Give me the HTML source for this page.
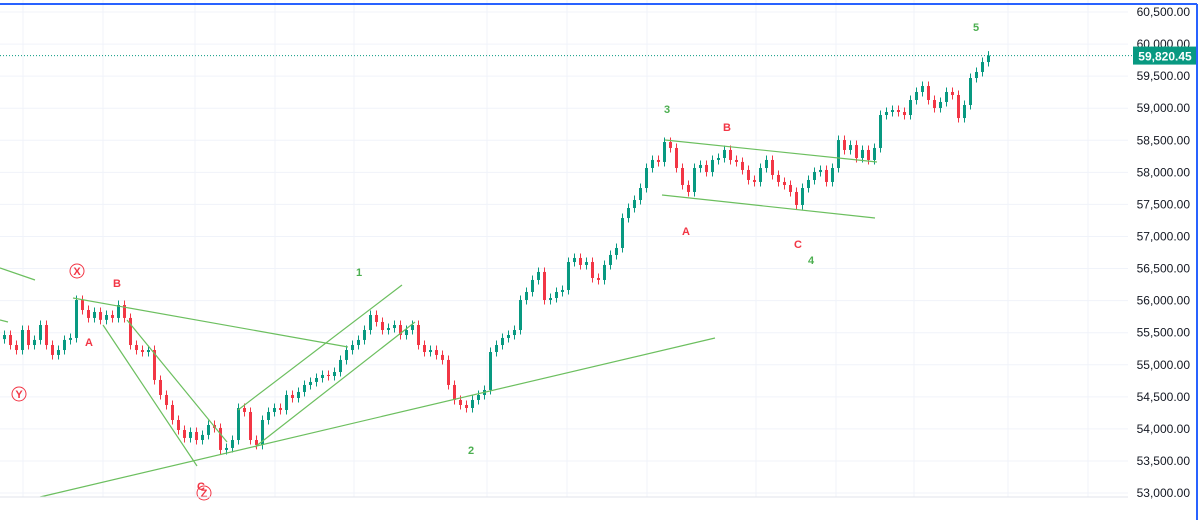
<!DOCTYPE html>
<html><head><meta charset="utf-8"><style>
html,body{margin:0;padding:0;background:#fff;}
svg{display:block;font-family:"Liberation Sans",sans-serif;}
</style></head><body>
<svg id="chart" width="1200" height="520" viewBox="0 0 1200 520">
<rect x="0" y="0" width="1200" height="520" fill="#fff"/>
<g id="grid"></g>
<g id="axis"></g>
<g id="candles"></g>
<g id="draw"></g>
<line x1="0" y1="497" x2="1128" y2="497" stroke="#e0e3eb"/>
<line x1="0" y1="4" x2="1197" y2="4" stroke="#2962ff" stroke-width="2"/>
<line x1="1197" y1="4" x2="1197" y2="520" stroke="#2962ff" stroke-width="2"/>
</svg>
<script>
const yTicks=[53000,53500,54000,54500,55000,55500,56000,56500,57000,57500,58000,58500,59000,59500,60000,60500];
const closes=[55464,55308,55230,55542,55308,55387,55620,55308,55153,55230,55387,55418,56010,55854,55730,55823,55700,55776,55730,55932,55730,55308,55230,55199,55230,54763,54529,54373,54139,53983,53859,53952,53827,53906,54061,54015,53672,53703,53827,54326,54264,53827,53750,54139,54264,54326,54295,54529,54482,54576,54685,54732,54794,54841,54825,54887,55075,55230,55308,55387,55542,55776,55667,55542,55573,55620,55464,55542,55620,55308,55199,55230,55153,55075,54685,54451,54373,54326,54451,54529,54607,55199,55308,55418,55464,55542,56010,56135,56322,56447,56010,56041,56135,56166,56602,56665,56556,56602,56353,56322,56556,56712,56821,57288,57444,57569,57756,58068,58193,58162,58473,58380,58068,57803,57694,58068,58115,58006,58193,58224,58349,58193,58162,58037,57881,57850,58068,58193,57959,57850,57803,57694,57491,57756,57881,58006,58037,57850,58068,58504,58349,58426,58224,58349,58193,58380,58894,58941,58972,58941,58894,59128,59253,59346,59128,59003,59097,59253,59206,58847,59050,59471,59565,59720,59820.45];
const firstOpen=55400;
const lastPrice=59820.45;
const NS="http://www.w3.org/2000/svg";
function yS(p){return 12+(60500-p)/500*32.07;}
function xS(i){return 3+i*6;}
function mk(tag,attrs,parent){const e=document.createElementNS(NS,tag);for(const k in attrs)e.setAttribute(k,attrs[k]);parent.appendChild(e);return e;}
const grid=document.getElementById('grid'),axis=document.getElementById('axis'),cg=document.getElementById('candles'),dg=document.getElementById('draw');
[23,103,195,275,354,487,567,647,756,836,914,1008,1088].forEach(x=>{const l=mk('line',{x1:x,y1:0,x2:x,y2:497,stroke:'#f0f3fa'},grid);});
yTicks.forEach(t=>{const y=yS(t);const l=mk('line',{x1:0,y1:y,x2:1128,y2:y,stroke:'#f0f3fa'},grid);
const tx=mk('text',{x:1190,y:y+4,'text-anchor':'end','font-size':'12',fill:'#131722'},axis);tx.textContent=t.toLocaleString('en-US',{minimumFractionDigits:2});});
closes.forEach((c,i)=>{const o=i===0?firstOpen:closes[i-1];const up=c>=o;const col=up?'#089981':'#f23645';const x=xS(i);
const hi=Math.max(o,c)+70,lo=Math.min(o,c)-70;
const w=mk('line',{x1:x+1.5,y1:yS(hi),x2:x+1.5,y2:yS(lo),stroke:col,'stroke-width':1},cg);
const top=yS(Math.max(o,c)),h=Math.max(1,yS(Math.min(o,c))-top);
const r=mk('rect',{x:x,y:top,width:3,height:h,fill:col},cg);});
const ly=yS(lastPrice);
const dl=mk('line',{x1:0,y1:ly,x2:1133,y2:ly,stroke:'#089981','stroke-dasharray':'1 2'},dg);
const pb=mk('rect',{x:1133,y:ly-9,width:64,height:18,fill:'#089981'},dg);
const pt=mk('text',{x:1165,y:ly+5,'text-anchor':'middle','font-size':'12','font-weight':'bold',fill:'#fff'},dg);pt.textContent=lastPrice.toLocaleString('en-US',{minimumFractionDigits:2});
const lines=[[0,268,35,280],[0,320,8,322],[73,298,348,347],[103,325,197,466],[127,320,227,442],[40,497,715,338],[238,410,402,285],[255,447,415,322],[665,140,877,162],[662,195,875,218]];
lines.forEach(a=>{const l=mk('line',{x1:a[0],y1:a[1],x2:a[2],y2:a[3],stroke:'#6cbf5f','stroke-width':1.2},dg);});
const labels=[['X',77,271,'#f23645',1],['B',117,283,'#f23645',0],['A',89,342,'#f23645',0],['Y',19,394,'#f23645',1],['C',201,486,'#f23645',0],['Z',204,493,'#f23645',1],['1',359,272,'#4caf50',0],['2',471,450,'#4caf50',0],['3',667,109,'#4caf50',0],['B',727,127,'#f23645',0],['A',686,231,'#f23645',0],['C',798,244,'#f23645',0],['4',811,260,'#4caf50',0],['5',976,27,'#4caf50',0]];
labels.forEach(a=>{if(a[4]){const c=mk('circle',{cx:a[1],cy:a[2],r:7,fill:'none',stroke:a[3]},dg);}
const t=mk('text',{x:a[1],y:a[2]+4,'text-anchor':'middle','font-size':'11','font-weight':'bold',fill:a[3]},dg);t.textContent=a[0];});
</script>
</body></html>
